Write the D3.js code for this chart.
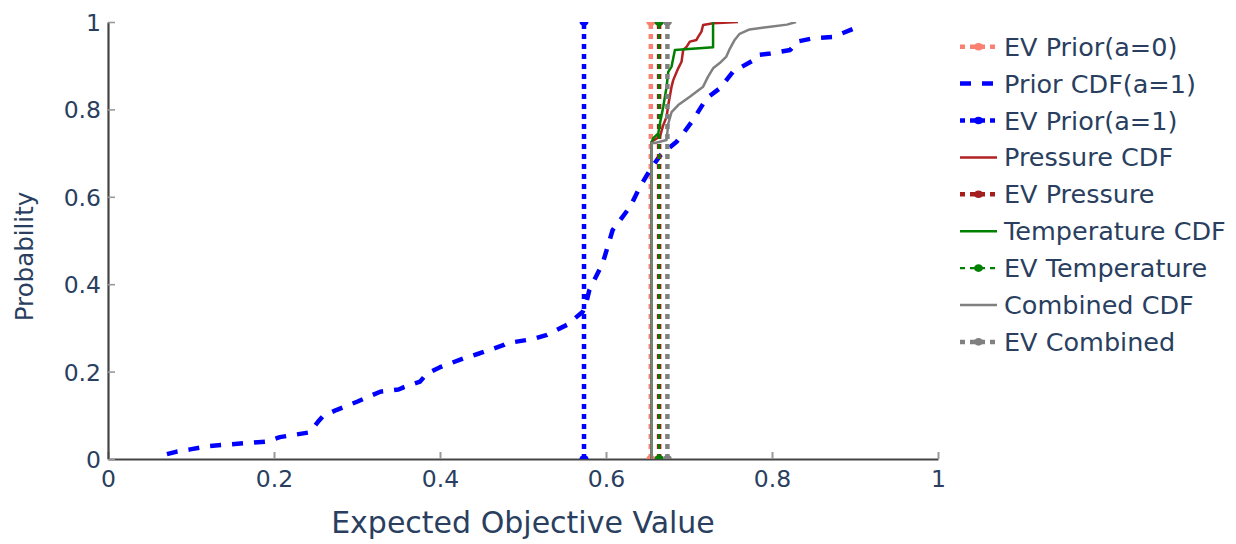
<!DOCTYPE html>
<html>
<head>
<meta charset="utf-8">
<script src="https://cdn.jsdelivr.net/npm/d3@7"></script>
<style>
  html, body { margin: 0; padding: 0; background: #fff; }
  svg { display: block; font-family: "DejaVu Sans", Verdana, sans-serif; }
</style>
</head>
<body>
<svg id="chart" width="1236" height="544"></svg>
<script>
// ---- Data ----
const priorCdfX = [0.071,0.083,0.099,0.123,0.191,0.207,0.243,0.253,0.259,0.275,0.300,0.328,0.350,0.356,0.376,0.384,0.400,0.428,0.448,0.477,0.481,0.513,0.529,0.553,0.560,0.572,0.576,0.580,0.596,0.608,0.629,0.641,0.653,0.665,0.685,0.693,0.705,0.721,0.737,0.753,0.778,0.782,0.798,0.822,0.830,0.850,0.874,0.908];
const priorCdfY = [0.011,0.017,0.022,0.030,0.040,0.050,0.061,0.085,0.098,0.112,0.131,0.154,0.159,0.164,0.177,0.195,0.210,0.230,0.242,0.261,0.265,0.275,0.284,0.307,0.318,0.337,0.356,0.387,0.448,0.524,0.577,0.623,0.661,0.694,0.726,0.745,0.776,0.825,0.848,0.886,0.913,0.924,0.928,0.936,0.955,0.963,0.966,0.992];

const pressureCdfX = [0.655,0.655,0.665,0.669,0.673,0.675,0.679,0.681,0.687,0.691,0.693,0.697,0.701,0.709,0.711,0.715,0.717,0.729,0.759];
const pressureCdfY = [0,0.726,0.738,0.764,0.783,0.810,0.852,0.867,0.894,0.909,0.936,0.943,0.955,0.959,0.966,0.978,0.993,0.997,1.0];

const temperatureCdfX = [0.655,0.655,0.657,0.663,0.665,0.669,0.673,0.675,0.679,0.683,0.729,0.729];
const temperatureCdfY = [0,0.726,0.734,0.745,0.768,0.806,0.852,0.886,0.898,0.936,0.942,1.0];

const combinedCdfX = [0.655,0.655,0.659,0.673,0.675,0.679,0.687,0.701,0.717,0.723,0.729,0.737,0.745,0.749,0.755,0.761,0.773,0.798,0.818,0.829];
const combinedCdfY = [0,0.723,0.723,0.730,0.767,0.794,0.810,0.829,0.852,0.875,0.894,0.906,0.921,0.938,0.959,0.973,0.983,0.989,0.994,1.0];

// Expected values (drawn as vertical lines spanning probability 0..1)
const evPriorA0 = 0.654;
const evPriorA1 = 0.5735;
const evPressure = 0.664;
const evTemperature = 0.664;
const evCombined = 0.674;

const tickValues = [0, 0.2, 0.4, 0.6, 0.8, 1];
const tickLabels = ["0", "0.2", "0.4", "0.6", "0.8", "1"];

const xTitle = "Expected Objective Value";
const yTitle = "Probability";

// ---- Layout ----
const plot = { left: 108, right: 938, top: 22, bottom: 459 };
const textColor = "#2a3f5f";
const font = "DejaVu Sans";

const svg = d3.select("#chart");
const x = d3.scaleLinear().domain([0, 1]).range([plot.left, plot.right]);
const y = d3.scaleLinear().domain([0, 1]).range([plot.bottom, plot.top]);

svg.append("rect").attr("width", 1236).attr("height", 544).attr("fill", "#fff");

svg.append("defs").append("clipPath").attr("id", "plotClip")
  .append("rect")
  .attr("x", plot.left).attr("y", plot.top)
  .attr("width", plot.right - plot.left).attr("height", plot.bottom - plot.top);

// ---- Trace definitions (in drawing order) ----
const zip = (xs, ys) => xs.map((v, i) => [v, ys[i]]);
const traces = [
  { name: "EV Prior(a=0)",    kind: "ev",  value: evPriorA0,     color: "#fa8072", width: 4.5, dash: "5,5" },
  { name: "Prior CDF(a=1)",   kind: "cdf", pts: zip(priorCdfX, priorCdfY), color: "#0000ff", width: 4.5, dash: "11,11" },
  { name: "EV Prior(a=1)",    kind: "ev",  value: evPriorA1,     color: "#0000ff", width: 4.5, dash: "5,5" },
  { name: "Pressure CDF",     kind: "cdf", pts: zip(pressureCdfX, pressureCdfY), color: "#b22222", width: 2.5, dash: null },
  { name: "EV Pressure",      kind: "ev",  value: evPressure,    color: "#a51d1d", width: 4.5, dash: "5,5" },
  { name: "Temperature CDF",  kind: "cdf", pts: zip(temperatureCdfX, temperatureCdfY), color: "#008000", width: 2.5, dash: null },
  { name: "EV Temperature",   kind: "ev",  value: evTemperature, color: "#008000", width: 2.2, dash: "5,5" },
  { name: "Combined CDF",     kind: "cdf", pts: zip(combinedCdfX, combinedCdfY), color: "#808080", width: 2.5, dash: null },
  { name: "EV Combined",      kind: "ev",  value: evCombined,    color: "#808080", width: 4.5, dash: "5,5" }
];

// ---- Axes ----
const xAxis = svg.append("g")
  .attr("transform", `translate(0,${plot.bottom})`)
  .call(d3.axisBottom(x).tickValues(tickValues).tickFormat((d, i) => tickLabels[i])
        .tickSizeInner(-7).tickSizeOuter(0));
xAxis.select(".domain").attr("stroke", "#444").attr("stroke-width", 1.8);
xAxis.selectAll(".tick line").attr("stroke", "#999").attr("stroke-width", 2);
xAxis.selectAll(".tick text")
  .attr("fill", textColor).attr("font-size", 23.5).attr("font-family", font)
  .attr("x", 0).attr("y", 27.5).attr("dy", null)
  .attr("text-anchor", "middle");

const yAxis = svg.append("g")
  .attr("transform", `translate(${plot.left},0)`)
  .call(d3.axisLeft(y).tickValues(tickValues).tickFormat((d, i) => tickLabels[i])
        .tickSizeInner(-7).tickSizeOuter(0));
yAxis.select(".domain").attr("stroke", "#444").attr("stroke-width", 2.2);
yAxis.selectAll(".tick line").attr("stroke", "#999").attr("stroke-width", 1.6);
yAxis.selectAll(".tick text")
  .attr("fill", textColor).attr("font-size", 23.5).attr("font-family", font)
  .attr("x", -7).attr("y", 8.5).attr("dy", null)
  .attr("text-anchor", "end");

// ---- Traces ----
const plotG = svg.append("g").attr("clip-path", "url(#plotClip)");
const line = d3.line().x(d => x(d[0])).y(d => y(d[1]));

traces.forEach(t => {
  const pts = t.kind === "ev" ? [[t.value, 0], [t.value, 1]] : t.pts;
  plotG.append("path")
    .attr("d", line(pts))
    .attr("fill", "none")
    .attr("stroke", t.color)
    .attr("stroke-width", t.width)
    .attr("stroke-dasharray", t.dash)
    .attr("stroke-linejoin", "round");
  if (t.kind === "ev") {
    plotG.selectAll(null).data(pts).enter().append("ellipse")
      .attr("cx", d => x(d[0])).attr("cy", d => y(d[1]))
      .attr("rx", 4.5).attr("ry", 4)
      .attr("fill", t.color);
  }
});

// ---- Legend ----
const legend = svg.append("g");
const legX0 = 960, legX1 = 997, legTextX = 1004, legY0 = 46.7, legStep = 36.9;
traces.forEach((t, i) => {
  const cy = legY0 + i * legStep;
  const g = legend.append("g");
  g.append("line")
    .attr("x1", legX0).attr("x2", legX1).attr("y1", cy).attr("y2", cy)
    .attr("stroke", t.color)
    .attr("stroke-width", t.width)
    .attr("stroke-dasharray", t.dash);
  if (t.kind === "ev") {
    g.append("ellipse").attr("cx", (legX0 + legX1) / 2).attr("cy", cy)
      .attr("rx", 4.5).attr("ry", 3.8).attr("fill", t.color);
  }
  g.append("text")
    .attr("x", legTextX).attr("y", cy + 9)
    .attr("fill", textColor).attr("font-size", 25.5).attr("font-family", font)
    .text(t.name);
});

// ---- Axis titles ----
svg.append("text")
  .attr("x", (plot.left + plot.right) / 2).attr("y", 533)
  .attr("text-anchor", "middle").attr("fill", textColor)
  .attr("font-size", 30).attr("font-family", font)
  .text(xTitle);

svg.append("text")
  .attr("transform", `translate(33,${(plot.top + plot.bottom) / 2 + 16}) rotate(-90)`)
  .attr("text-anchor", "middle").attr("fill", textColor)
  .attr("font-size", 24.5).attr("font-family", font)
  .text(yTitle);
</script>
</body>
</html>
